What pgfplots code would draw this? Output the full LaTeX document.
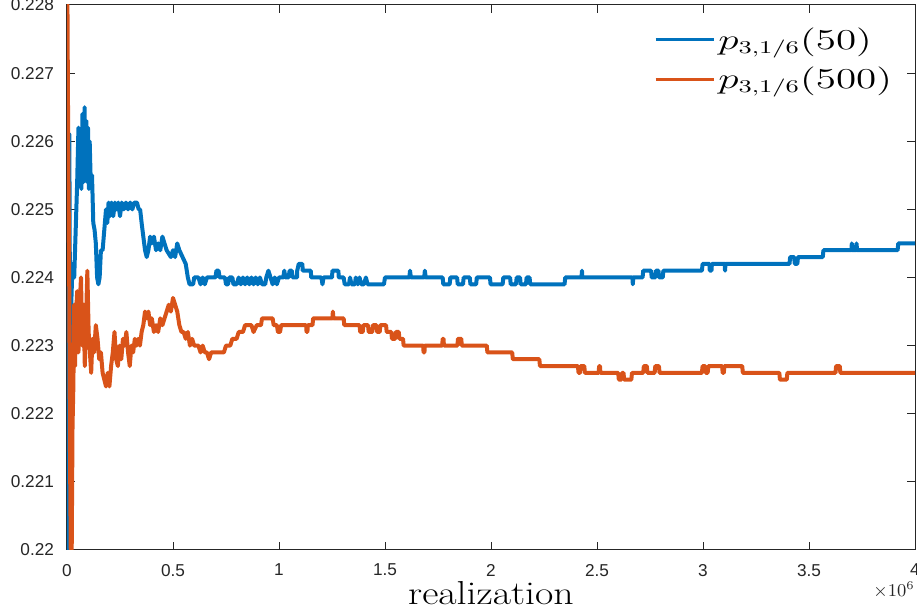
\documentclass[border=0pt]{standalone}
\usepackage{pgfplots}
\pgfplotsset{compat=1.18}
\usepackage{fontspec}
\newfontfamily\tickfont{Liberation Sans}
\definecolor{mblue}{rgb}{0,0.447,0.741}
\definecolor{morange}{rgb}{0.851,0.325,0.098}
\definecolor{axgray}{rgb}{0.15,0.15,0.15}
\begin{document}
\begin{tikzpicture}
\begin{axis}[
  scale only axis,
  width=424pt, height=272.5pt,
  xmin=0, xmax=4, ymin=0.22, ymax=0.228,
  xtick={0,0.5,1,1.5,2,2.5,3,3.5,4},
  xticklabels={0,0.5,1,1.5,2,2.5,3,3.5,4},
  ytick={0.22,0.221,0.222,0.223,0.224,0.225,0.226,0.227,0.228},
  scaled y ticks=false,
  yticklabel style={/pgf/number format/fixed,/pgf/number format/precision=3},
  /pgf/number format/assume math mode=true,
  tick label style={font=\tickfont\fontsize{8.6}{10}\selectfont, text=axgray},
  yticklabel style={xshift=-3pt},
  xticklabel style={yshift=-3.5pt},
  tick align=inside,
  major tick length=4.2pt,
  tick style={axgray, line width=0.5pt},
  axis line style={axgray, line width=0.5pt},
  xlabel={\scalebox{1.2}[1]{\fontsize{16.6}{18}\selectfont realization}},
  xlabel style={at={(rel axis cs:0.5,0)}, anchor=base, yshift=-27.5pt, inner sep=0pt},
  legend style={at={(rel axis cs:0.977,0.965)}, anchor=north east, draw=none, fill=none,
    row sep=4.5pt, inner sep=0pt, nodes={inner sep=1.5pt, anchor=west}},
  legend cell align=left,
  legend image code/.code={\draw[#1, line width=1.65pt] (0pt,0pt) -- (29pt,0pt);},
  every axis plot/.append style={line width=2pt, line join=round},
  clip mode=individual,
]
\addplot[mblue] coordinates {
(0,0.2206) (0.003,0.2199) (0.007,0.2199) (0.011,0.2261) (0.015,0.2226) (0.020,0.2236) (0.026,0.2242) (0.034,0.2240) (0.042,0.2248) (0.048,0.2254) (0.054,0.2262) (0.058,0.2254) (0.063,0.2261) (0.068,0.2253) (0.073,0.2264) (0.078,0.2254) (0.083,0.2265) (0.087,0.2255) (0.091,0.2263) (0.095,0.2254) (0.099,0.2262) (0.103,0.2253) (0.107,0.2260) (0.112,0.2254) (0.118,0.2255) (0.124,0.2248) (0.130,0.2247) (0.136,0.2245) (0.142,0.2240) (0.148,0.2239) (0.154,0.2240) (0.160,0.2244) (0.168,0.2244) (0.176,0.2247) (0.184,0.2250) (0.190,0.2248) (0.196,0.2251) (0.202,0.2249) (0.210,0.2251) (0.218,0.2249) (0.226,0.2251) (0.234,0.2250) (0.242,0.2251) (0.250,0.2249) (0.258,0.2251) (0.268,0.2250) (0.278,0.2251) (0.288,0.2250) (0.298,0.2251) (0.308,0.2250) (0.318,0.2251) (0.330,0.2251) (0.338,0.2250) (0.345,0.2250) (0.352,0.2248) (0.360,0.2246) (0.368,0.2244) (0.376,0.2243) (0.384,0.2244) (0.392,0.2246) (0.400,0.2245) (0.410,0.2246) (0.420,0.2244) (0.430,0.2245) (0.440,0.2244) (0.450,0.2246) (0.460,0.2245) (0.470,0.2244) (0.490,0.2243) (0.500,0.2244) (0.510,0.2243) (0.520,0.2245) (0.530,0.2244) (0.545,0.2243) (0.560,0.2242) (0.570,0.2240) (0.578,0.2239) (0.595,0.2239)
(0.600,0.2240) (0.620,0.2240) (0.630,0.2239) (0.640,0.2240) (0.650,0.2239) (0.660,0.2240) (0.700,0.2240) (0.705,0.2241) (0.715,0.2241) (0.720,0.2240) (0.745,0.2240) (0.750,0.2239) (0.760,0.2239) (0.765,0.2240) (0.780,0.2240) (0.785,0.2239) (0.800,0.2239) (0.810,0.2240) (0.820,0.2239) (0.830,0.2240) (0.840,0.2239) (0.850,0.2240) (0.860,0.2239) (0.870,0.2240) (0.880,0.2239) (0.890,0.2240) (0.900,0.2239) (0.910,0.2240) (0.920,0.2239) (0.935,0.2239) (0.940,0.2240) (0.950,0.2241) (0.960,0.2240) (0.970,0.2239) (0.980,0.2240) (0.990,0.2239) (1.000,0.2240)
(1.020,0.2240) (1.025,0.2241) (1.030,0.2240) (1.045,0.2240) (1.050,0.2241) (1.060,0.2241) (1.065,0.2240) (1.085,0.2240) (1.086,0.2241) (1.093,0.2242) (1.110,0.2242) (1.112,0.2241) (1.150,0.2241) (1.152,0.2240) (1.200,0.2240) (1.205,0.2239) (1.210,0.2240) (1.250,0.2240) (1.252,0.2241) (1.280,0.2241) (1.282,0.2240) (1.305,0.2240) (1.310,0.2239) (1.330,0.2239) (1.335,0.2240) (1.342,0.2239) (1.358,0.2239) (1.362,0.2240) (1.372,0.2239) (1.380,0.2240) (1.388,0.2239) (1.400,0.2239) (1.410,0.2240) (1.418,0.2239) (1.495,0.2239) (1.500,0.2240)
(1.615,0.2240) (1.618,0.2241) (1.622,0.2240) (1.685,0.2240) (1.688,0.2241) (1.692,0.2240) (1.772,0.2240) (1.775,0.2239) (1.805,0.2239) (1.808,0.2240) (1.840,0.2240) (1.843,0.2239) (1.868,0.2239) (1.871,0.2240) (1.900,0.2240) (1.903,0.2239) (1.930,0.2239) (1.933,0.2240) (1.995,0.2240) (1.998,0.2239) (2.055,0.2239) (2.058,0.2240) (2.090,0.2240) (2.093,0.2239) (2.118,0.2239) (2.121,0.2240) (2.137,0.2240) (2.140,0.2239) (2.165,0.2239) (2.168,0.2240) (2.182,0.2240) (2.185,0.2239) (2.347,0.2239) (2.350,0.2240)
(2.427,0.2240) (2.429,0.2241) (2.431,0.2240) (2.667,0.2240) (2.669,0.2239) (2.671,0.2240) (2.715,0.2240) (2.718,0.2241) (2.755,0.2241) (2.758,0.2240) (2.775,0.2240) (2.778,0.2241) (2.790,0.2241) (2.793,0.2240) (2.810,0.2240) (2.813,0.2241) (2.995,0.2241) (2.998,0.2242) (3.030,0.2242) (3.032,0.2241) (3.040,0.2241) (3.042,0.2242) (3.102,0.2242) (3.104,0.2241) (3.106,0.2242)
(3.408,0.2242) (3.411,0.2243) (3.430,0.2243) (3.433,0.2242) (3.445,0.2242) (3.448,0.2243) (3.480,0.2243) (3.565,0.2243) (3.568,0.2244) (3.700,0.2244) (3.702,0.2245) (3.705,0.2244) (3.722,0.2244) (3.724,0.2245) (3.727,0.2244) (3.918,0.2244) (3.921,0.2245) (4.000,0.2245)
};
\addlegendentry{\scalebox{1.43}[1]{\fontsize{13.5}{15}\selectfont $p_{3,1/6}(50)$}}
\addplot[morange] coordinates {
(0,0.2292) (0.006,0.2258) (0.010,0.2243) (0.014,0.2215) (0.018,0.2199) (0.022,0.2199) (0.026,0.2218) (0.030,0.2224) (0.034,0.2236) (0.038,0.2227) (0.042,0.2234) (0.048,0.2238) (0.054,0.2229) (0.060,0.2236) (0.066,0.2240) (0.072,0.2230) (0.078,0.2236) (0.084,0.2227) (0.090,0.2234) (0.096,0.2241) (0.102,0.2232) (0.108,0.2229) (0.114,0.2226) (0.120,0.2231) (0.128,0.2229) (0.136,0.2233) (0.144,0.2231) (0.152,0.2228) (0.160,0.2229) (0.168,0.2226) (0.176,0.2225) (0.184,0.2224) (0.192,0.2226) (0.200,0.2224) (0.208,0.2227) (0.216,0.2229) (0.224,0.2232) (0.232,0.2228) (0.240,0.2227) (0.248,0.2230) (0.256,0.2228) (0.264,0.2231) (0.272,0.2230) (0.280,0.2232) (0.288,0.2229) (0.296,0.2227) (0.304,0.2230) (0.312,0.2229) (0.320,0.2231) (0.328,0.2230) (0.336,0.2231) (0.344,0.2230) (0.352,0.2232) (0.360,0.2233) (0.368,0.2235) (0.376,0.2234) (0.384,0.2235) (0.392,0.2233) (0.400,0.2234) (0.410,0.2232) (0.420,0.2233) (0.430,0.2232) (0.440,0.2234) (0.450,0.2233) (0.460,0.2234) (0.470,0.2235) (0.480,0.2236) (0.490,0.2235) (0.500,0.2237) (0.510,0.2236) (0.520,0.2235) (0.530,0.2233) (0.540,0.2232) (0.550,0.2232) (0.560,0.2231) (0.570,0.2232) (0.580,0.2230) (0.590,0.2231) (0.600,0.2230) (0.620,0.2230) (0.630,0.2229) (0.640,0.2230) (0.650,0.2229) (0.660,0.2229) (0.670,0.2228) (0.680,0.2229) (0.740,0.2229) (0.750,0.2230) (0.770,0.2230) (0.780,0.2231) (0.800,0.2231) (0.810,0.2232) (0.830,0.2232) (0.840,0.2233) (0.870,0.2233) (0.880,0.2232) (0.895,0.2233) (0.915,0.2233) (0.920,0.2234) (0.970,0.2234) (0.975,0.2233) (0.990,0.2233) (0.995,0.2232) (1.005,0.2232) (1.010,0.2233)
(1.128,0.2233) (1.130,0.2232) (1.134,0.2232) (1.136,0.2233) (1.158,0.2233) (1.161,0.2234) (1.252,0.2234) (1.254,0.2235) (1.257,0.2234) (1.305,0.2234) (1.308,0.2233) (1.380,0.2233) (1.383,0.2232) (1.395,0.2232) (1.398,0.2233) (1.420,0.2233) (1.423,0.2232) (1.440,0.2232) (1.443,0.2233) (1.460,0.2233) (1.463,0.2232) (1.475,0.2232) (1.478,0.2233) (1.505,0.2233) (1.508,0.2232) (1.530,0.2232) (1.533,0.2231) (1.548,0.2231) (1.551,0.2232) (1.565,0.2232) (1.568,0.2231) (1.585,0.2231) (1.588,0.2230)
(1.680,0.2230) (1.682,0.2229) (1.686,0.2229) (1.688,0.2230) (1.770,0.2230) (1.772,0.2231) (1.776,0.2231) (1.778,0.2230) (1.842,0.2230) (1.844,0.2231) (1.860,0.2231) (1.862,0.2230) (1.980,0.2230) (1.983,0.2229) (2.100,0.2229) (2.103,0.2228) (2.228,0.2228) (2.231,0.2227) (2.410,0.2227) (2.413,0.2226) (2.420,0.2226) (2.423,0.2227) (2.440,0.2227) (2.443,0.2226)
(2.508,0.2226) (2.510,0.2227) (2.514,0.2227) (2.516,0.2226) (2.600,0.2226) (2.603,0.2225) (2.615,0.2225) (2.618,0.2226) (2.625,0.2226) (2.628,0.2225) (2.662,0.2225) (2.665,0.2226) (2.718,0.2226) (2.721,0.2227) (2.735,0.2227) (2.738,0.2226) (2.772,0.2226) (2.775,0.2227) (2.792,0.2227) (2.795,0.2226)
(2.995,0.2226) (2.998,0.2227) (3.010,0.2227) (3.013,0.2226) (3.022,0.2226) (3.025,0.2227) (3.090,0.2227) (3.093,0.2226) (3.098,0.2226) (3.101,0.2227) (3.185,0.2227) (3.188,0.2226) (3.360,0.2226) (3.363,0.2225) (3.395,0.2225) (3.398,0.2226) (3.625,0.2226) (3.628,0.2227) (3.645,0.2227) (3.648,0.2226) (4.000,0.2226)
};
\addlegendentry{\scalebox{1.43}[1]{\fontsize{13.5}{15}\selectfont $p_{3,1/6}(500)$}}
\node[anchor=base east, inner sep=0pt, text=axgray, font=\tickfont\fontsize{9.2}{11}\selectfont] at (rel axis cs:1,0) [yshift=-23.5pt] {$\times10^{6}$};
\end{axis}
\pgfresetboundingbox
\path[use as bounding box] ([xshift=-33.5pt,yshift=-32pt]current axis.south west) rectangle ([xshift=1pt,yshift=2.5pt]current axis.north east);
\end{tikzpicture}
\end{document}
